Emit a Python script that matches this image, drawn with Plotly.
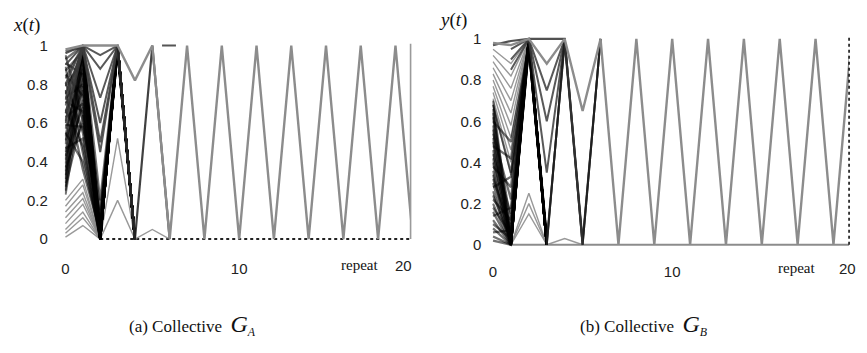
import plotly.graph_objects as go

# ---------------- data ----------------
T_FULL = list(range(21))  # "repeat" steps

# Collective G_A : x(t)
A_OSC = [0.98, 1.00, 1.00, 1.00, 0.82, 1, 0, 1, 0, 1, 0, 1, 0, 1, 0, 1, 0, 1, 0, 1, 0]
A_DARK = [  # t = 0..4
    [0.97, 0.99, 0.03, 1.00, 0.00],
    [0.95, 0.62, 0.00, 0.99, 0.00],
    [0.93, 1.00, 0.00, 1.00, 0.00],
    [0.91, 0.85, 0.05, 1.00, 0.00],
    [0.89, 0.45, 0.00, 0.98, 0.00],
    [0.87, 0.97, 0.02, 1.00, 0.00],
    [0.85, 0.74, 0.00, 1.00, 0.00],
    [0.83, 1.00, 0.08, 0.99, 0.00],
    [0.81, 0.55, 0.00, 1.00, 0.00],
    [0.79, 0.92, 0.00, 1.00, 0.00],
    [0.77, 0.36, 0.03, 0.97, 0.00],
    [0.75, 0.98, 0.00, 1.00, 0.00],
    [0.73, 0.80, 0.10, 1.00, 0.00],
    [0.71, 0.66, 0.00, 0.99, 0.00],
    [0.69, 1.00, 0.01, 1.00, 0.00],
    [0.67, 0.48, 0.00, 1.00, 0.00],
    [0.65, 0.94, 0.06, 0.98, 0.00],
    [0.63, 0.70, 0.00, 1.00, 0.00],
    [0.61, 0.99, 0.00, 1.00, 0.00],
    [0.59, 0.58, 0.12, 1.00, 0.00],
    [0.57, 0.88, 0.00, 0.99, 0.00],
    [0.55, 0.40, 0.02, 1.00, 0.00],
    [0.53, 0.96, 0.00, 1.00, 0.00],
    [0.51, 0.77, 0.04, 0.97, 0.00],
    [0.49, 1.00, 0.00, 1.00, 0.00],
    [0.47, 0.52, 0.00, 1.00, 0.00],
    [0.45, 0.90, 0.15, 0.99, 0.00],
    [0.43, 0.68, 0.00, 1.00, 0.00],
    [0.41, 0.98, 0.02, 1.00, 0.00],
    [0.39, 0.83, 0.00, 0.98, 0.00],
    [0.37, 0.60, 0.07, 1.00, 0.00],
    [0.35, 0.95, 0.00, 1.00, 0.00],
    [0.33, 0.72, 0.00, 0.99, 0.00],
    [0.31, 1.00, 0.20, 1.00, 0.00],
    [0.29, 0.86, 0.00, 1.00, 0.00],
    [0.27, 0.64, 0.03, 0.97, 0.00],
    [0.25, 0.93, 0.00, 1.00, 0.00],
    [0.23, 0.79, 0.00, 1.00, 0.00],
]
A_V = [  # t = 0..4
    [0.96, 1.00, 0.95, 1.00, 0.00],
    [0.90, 1.00, 0.88, 1.00, 0.00],
    [0.80, 1.00, 0.73, 1.00, 0.00],
    [0.72, 0.99, 0.60, 1.00, 0.00],
    [0.65, 1.00, 0.50, 1.00, 0.00],
    [0.60, 0.98, 0.45, 1.00, 0.00],
]
A_FAN = [  # t = 0..2
    [0.20, 0.31, 0.00],
    [0.17, 0.28, 0.00],
    [0.14, 0.24, 0.00],
    [0.11, 0.21, 0.00],
    [0.08, 0.18, 0.00],
    [0.05, 0.14, 0.00],
    [0.03, 0.11, 0.00],
    [0.01, 0.07, 0.00],
]
A_LATE_T = [2, 3, 4]
A_LATE = [[0.00, 0.52, 0.00], [0.00, 0.20, 0.00]]
A_JOIN_T = [3, 4, 5, 6]
A_JOIN = [1.00, 0.00, 1.00, 0.00]
A_BUMP_T = [4, 5, 6]
A_BUMP = [0.00, 0.05, 0.00]
A_BASE_T = [2, 20]
A_BASE = [0.0, 0.0]
A_DASH_T = [5.56, 6.36]
A_DASH = [1.0, 1.0]

# Collective G_B : y(t)
B_OSC = [0.98, 0.97, 1.00, 0.88, 1.00, 0.65, 1, 0, 1, 0, 1, 0, 1, 0, 1, 0, 1, 0, 1, 0, 1]
B_TOP = [0.97, 0.99, 1.00, 1.00, 1.00, 0.00]          # t = 0..5
B_DARK = [  # t = 0..3
    [0.70, 0.02, 1.00, 0.00],
    [0.68, 0.35, 0.99, 0.02],
    [0.66, 0.00, 1.00, 0.00],
    [0.64, 0.10, 0.98, 0.00],
    [0.62, 0.00, 1.00, 0.03],
    [0.60, 0.50, 0.97, 0.00],
    [0.58, 0.05, 1.00, 0.00],
    [0.56, 0.00, 0.99, 0.01],
    [0.54, 0.22, 1.00, 0.00],
    [0.52, 0.00, 0.96, 0.00],
    [0.50, 0.03, 1.00, 0.02],
    [0.48, 0.42, 0.98, 0.00],
    [0.46, 0.00, 1.00, 0.00],
    [0.44, 0.15, 0.95, 0.04],
    [0.42, 0.04, 1.00, 0.00],
    [0.40, 0.00, 0.99, 0.00],
    [0.38, 0.28, 1.00, 0.00],
    [0.36, 0.00, 0.97, 0.01],
    [0.34, 0.01, 1.00, 0.00],
    [0.32, 0.08, 0.98, 0.00],
    [0.30, 0.00, 1.00, 0.00],
    [0.28, 0.33, 0.96, 0.00],
    [0.26, 0.00, 1.00, 0.00],
    [0.24, 0.02, 0.99, 0.02],
    [0.22, 0.12, 1.00, 0.00],
    [0.20, 0.00, 0.97, 0.00],
    [0.18, 0.05, 1.00, 0.00],
    [0.16, 0.00, 0.98, 0.01],
    [0.14, 0.18, 1.00, 0.00],
    [0.12, 0.00, 0.99, 0.00],
    [0.10, 0.03, 1.00, 0.00],
    [0.08, 0.00, 0.96, 0.00],
    [0.06, 0.07, 1.00, 0.00],
    [0.04, 0.00, 0.98, 0.00],
    [0.02, 0.00, 1.00, 0.00],
]
B_FAN = [  # t = 0..2, light lines upper left
    [0.95, 0.88, 1.00],
    [0.92, 0.82, 1.00],
    [0.89, 0.76, 1.00],
    [0.86, 0.70, 1.00],
    [0.83, 0.64, 1.00],
    [0.80, 0.58, 1.00],
    [0.77, 0.52, 1.00],
    [0.74, 0.46, 1.00],
    [0.71, 0.40, 1.00],
    [0.68, 0.34, 1.00],
]
B_V_T = [1, 2, 3, 4]
B_V = [
    [0.90, 1.00, 0.35, 1.00],
    [0.95, 1.00, 0.60, 1.00],
    [0.85, 1.00, 0.75, 1.00],
]
B_RISE_T = [3, 4, 5, 6]
B_RISE = [
    [0.00, 1.00, 0.00, 1.00],
    [0.02, 0.98, 0.00, 1.00],
    [0.00, 1.00, 0.02, 1.00],
]
B_LATE_T = [1, 2, 3]
B_LATE = [[0.00, 0.25, 0.00], [0.00, 0.20, 0.00], [0.00, 0.15, 0.00]]
B_BUMP_T = [3, 4, 5]
B_BUMP = [0.00, 0.03, 0.00]
B_BASE_T = [1, 20]
B_BASE = [0.0, 0.0]
B_DASH_T = [6.6, 7.6]
B_DASH = [1.02, 1.02]

Y_TICKS = [0, 0.2, 0.4, 0.6, 0.8, 1]
X_TICKS = [0, 10]

# ---------------- styles ----------------
DARK = "rgba(0,0,0,0.55)"
VGREY = "rgba(60,60,60,0.85)"
LIGHT = "rgba(135,135,135,0.85)"
OSC = "#8c8c8c"

fig = go.Figure()


def add(x, y, color, width, xa, ya, dash="solid"):
    fig.add_trace(go.Scatter(x=x, y=y, mode="lines", xaxis=xa, yaxis=ya,
                             line=dict(color=color, width=width, dash=dash),
                             showlegend=False, hoverinfo="skip"))


# panel A
add(A_BASE_T, A_BASE, "#222222", 2, "x", "y", dash="dot")
for row in A_FAN:
    add(list(range(len(row))), row, LIGHT, 1.4, "x", "y")
for row in A_LATE:
    add(A_LATE_T, row, LIGHT, 1.4, "x", "y")
add(A_BUMP_T, A_BUMP, LIGHT, 1.4, "x", "y")
for row in A_DARK:
    add(list(range(len(row))), row, DARK, 2.3, "x", "y")
for row in A_V:
    add(list(range(len(row))), row, VGREY, 2, "x", "y")
add(A_JOIN_T, A_JOIN, "rgba(30,30,30,0.85)", 2.2, "x", "y")
add(T_FULL, A_OSC, OSC, 2.4, "x", "y")
add(A_DASH_T, A_DASH, "#555555", 2, "x", "y")

# panel B
add(B_BASE_T, B_BASE, "#8c8c8c", 1.8, "x2", "y2")
for row in B_FAN:
    add(list(range(len(row))), row, LIGHT, 1.4, "x2", "y2")
for row in B_LATE:
    add(B_LATE_T, row, LIGHT, 1.4, "x2", "y2")
add(B_BUMP_T, B_BUMP, LIGHT, 1.4, "x2", "y2")
for row in B_DARK:
    add(list(range(len(row))), row, DARK, 2.3, "x2", "y2")
for row in B_V:
    add(B_V_T, row, VGREY, 2, "x2", "y2")
for row in B_RISE:
    add(B_RISE_T, row, "rgba(30,30,30,0.8)", 2, "x2", "y2")
add(list(range(len(B_TOP))), B_TOP, "rgba(50,50,50,0.85)", 2.2, "x2", "y2")
add(T_FULL, B_OSC, OSC, 2.4, "x2", "y2")
add(B_DASH_T, B_DASH, "#555555", 2, "x2", "y2")

W, H = 867, 353
TICKFONT = dict(family="Liberation Sans", size=15, color="#222222")
SERIF = "Liberation Serif, serif"

axis_common = dict(showgrid=False, zeroline=False, showline=False, ticks="",
                   tickfont=TICKFONT)

fig.update_layout(
    width=W, height=H, margin=dict(l=0, r=0, t=0, b=0),
    paper_bgcolor="white", plot_bgcolor="white",
    xaxis=dict(domain=[62 / W, 409 / W], range=[-0.04, 19.87], tickvals=X_TICKS,
               ticklabelstandoff=17, anchor="y", **axis_common),
    yaxis=dict(domain=[1 - 243 / H, 1 - 38 / H], range=[-0.01, 1.01], tickvals=Y_TICKS,
               ticklabelstandoff=16, anchor="x", **axis_common),
    xaxis2=dict(domain=[491 / W, 849 / W], range=[-0.04, 19.87], tickvals=X_TICKS,
                ticklabelstandoff=14, anchor="y2", **axis_common),
    yaxis2=dict(domain=[1 - 249 / H, 1 - 31 / H], range=[-0.01, 1.01], tickvals=Y_TICKS,
                ticklabelstandoff=10, anchor="x2", **axis_common),
)

# frame pieces
fig.add_shape(type="line", xref="x domain", yref="y", x0=1, x1=1, y0=0, y1=1.01,
              line=dict(color="#9a9a9a", width=1.6))
fig.add_shape(type="line", xref="x2 domain", yref="y2", x0=1, x1=1, y0=0, y1=1.01,
              line=dict(color="#111111", width=1.6, dash="dot"))

ann = []
ann.append(dict(text="<i>x</i>(<i>t</i>)", x=24 / W, y=1 - 19 / H, font=dict(family=SERIF, size=19, color="#111")))
ann.append(dict(text="<i>y</i>(<i>t</i>)", x=452 / W, y=1 - 13 / H, font=dict(family=SERIF, size=19, color="#111")))
ann.append(dict(text="repeat", x=358 / W, y=1 - 268 / H, font=dict(family=SERIF, size=15, color="#111")))
ann.append(dict(text="20", x=402 / W, y=1 - 268 / H, font=TICKFONT))
ann.append(dict(text="repeat", x=796 / W, y=1 - 271 / H, font=dict(family=SERIF, size=15, color="#111")))
ann.append(dict(text="20", x=847 / W, y=1 - 271 / H, font=TICKFONT))
ann.append(dict(text="(a) Collective  <i><span style='font-size:24px'>G</span></i><sub><i>A</i></sub>",
                x=190 / W, y=1 - 330 / H, font=dict(family=SERIF, size=17, color="#111")))
ann.append(dict(text="(b) Collective  <i><span style='font-size:24px'>G</span></i><sub><i>B</i></sub>",
                x=643 / W, y=1 - 330 / H, font=dict(family=SERIF, size=17, color="#111")))
for a in ann:
    a.update(xref="paper", yref="paper", showarrow=False, xanchor="center", yanchor="middle")
fig.update_layout(annotations=ann)

fig.write_html("out.html")
